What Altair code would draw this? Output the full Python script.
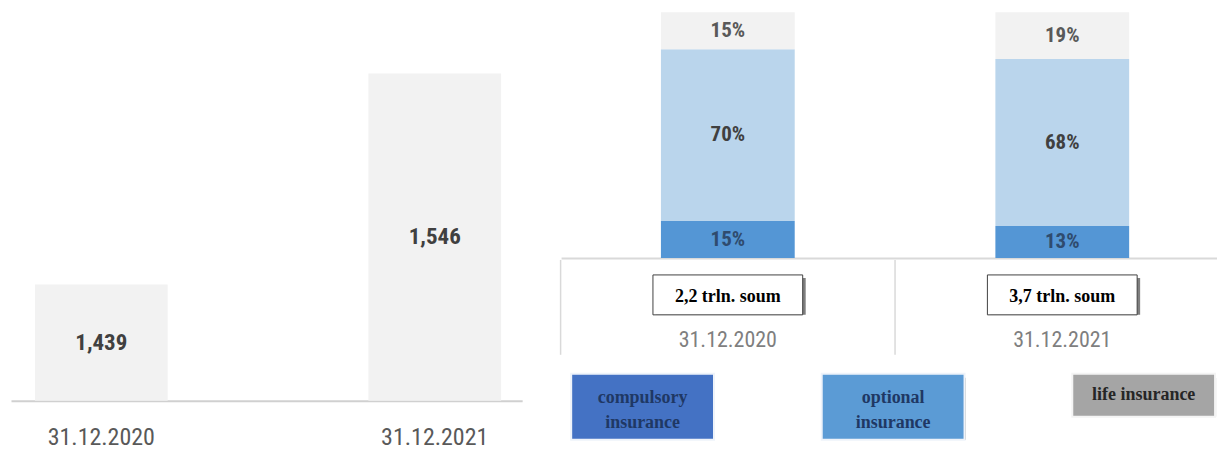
import altair as alt
import pandas as pd

# ---------------- data ----------------
dates = ["31.12.2020", "31.12.2021"]
premiums = [1439, 1546]
premium_labels = ["1,439", "1,546"]

categories = ["compulsory", "optional", "life"]
compulsory = [15, 13]
optional = [70, 68]
life = [15, 19]
totals = ["2,2 trln. soum", "3,7 trln. soum"]

legend_labels = ["compulsory\ninsurance", "optional\ninsurance", "life insurance"]

# ---------------- styles ----------------
NARROW = "Liberation Sans Narrow, Arial Narrow, Roboto Condensed, sans-serif"
SERIF = "Liberation Serif, Times New Roman, serif"
bar_colors = ["#5496D5", "#BAD5EC", "#F2F2F2"]
seg_text_colors = ["#2F4B6E", "#404040", "#595959"]
legend_colors = ["#4472C4", "#5B9BD5", "#A5A5A5"]
legend_text_colors = ["#1F3864", "#1F3864", "#262626"]
Y_MIN = 1380

# ---------------- left panel ----------------
left_df = pd.DataFrame({"date": dates, "value": premiums, "label": premium_labels})


def lscale():
    return alt.Scale(type="band", domain=dates, paddingInner=0.602, paddingOuter=0.0675, align=0.532)


lx = alt.X(
    "date:N", scale=lscale(), title=None,
    axis=alt.Axis(labelAngle=0, ticks=False, domainColor="#D0D0D0", domainWidth=2,
                  labelFont=NARROW, labelFontSize=24, labelColor="#595959",
                  labelPadding=37, labelBaseline="middle"),
)
ly_scale = alt.Scale(domain=[Y_MIN, 1577], zero=False, nice=False)
left_base = alt.Chart(left_df)
left_bars = left_base.mark_bar(color="#F2F2F2", clip=True).encode(
    x=lx, y=alt.Y("value:Q", scale=ly_scale, axis=None)
)
left_text = left_base.transform_calculate(
    mid=f"(datum.value + {Y_MIN}) / 2"
).mark_text(font=NARROW, fontSize=23, fontWeight="bold", color="#404040", baseline="middle").encode(
    x=alt.X("date:N", scale=lscale()), y=alt.Y("mid:Q", scale=ly_scale, axis=None), text="label:N"
)
left = alt.layer(left_bars, left_text).properties(width=512, height=389)

# ---------------- right panel ----------------
rows = []
for i, d in enumerate(dates):
    vals = [compulsory[i], optional[i], life[i]]
    for k, (c, v) in enumerate(zip(categories, vals)):
        rows.append({"date": d, "cat": c, "k": k, "value": v, "label": f"{v}%"})
seg_df = pd.DataFrame(rows)
info_df = pd.DataFrame({"date": dates, "total": totals})
leg_df = pd.DataFrame({"label": legend_labels})


def rscale():
    return alt.Scale(type="band", domain=dates, paddingInner=0.6, paddingOuter=0.2806, align=0.532)


ry_scale = alt.Scale(domain=[0, 100], nice=False)

seg = alt.Chart(seg_df).transform_stack(
    stack="value", groupby=["date"], as_=["v0", "v1"],
    sort=[alt.SortField("k", order="ascending")],
).transform_calculate(mid="(datum.v0 + datum.v1) / 2")

r_bars = seg.mark_bar().encode(
    x=alt.X("date:N", scale=rscale(), title=None,
            axis=alt.Axis(labels=False, ticks=False, domainColor="#D9D9D9", domainWidth=2)),
    y=alt.Y("v0:Q", scale=ry_scale, axis=None),
    y2="v1:Q",
    color=alt.Color("cat:N", scale=alt.Scale(domain=categories, range=bar_colors), legend=None),
)
r_text = seg.mark_text(font=NARROW, fontSize=21, fontWeight="bold", baseline="middle").encode(
    x=alt.X("date:N", scale=rscale(), axis=None),
    y=alt.Y("mid:Q", scale=ry_scale, axis=None),
    text="label:N",
    color=alt.Color("cat:N", scale=alt.Scale(domain=categories, range=seg_text_colors), legend=None),
)

info = alt.Chart(info_df)
rx_info = alt.X("date:N", scale=rscale(), axis=None)
dividers = info.mark_rule(color="#D9D9D9", strokeWidth=1.5, xOffset=-167.5).encode(
    x=rx_info, y=alt.value(248), y2=alt.value(343)
)
box_shadow = info.mark_bar(width=150, color="#7F7F7F", xOffset=3, yOffset=3).encode(
    x=rx_info, y=alt.value(263), y2=alt.value(303)
)
box = info.mark_bar(width=150, fill="white", stroke="#404040", strokeWidth=1).encode(
    x=rx_info, y=alt.value(263), y2=alt.value(303)
)
box_text = info.mark_text(font=SERIF, fontSize=18, fontWeight="bold", color="#000000",
                          baseline="middle").encode(
    x=rx_info, y=alt.value(285), text="total:N"
)
date_text = info.mark_text(font=NARROW, fontSize=22, color="#7F7F7F", baseline="middle").encode(
    x=rx_info, y=alt.value(328), text="date:N"
)

# legend boxes
leg = alt.Chart(leg_df).transform_calculate(two="indexof(datum.label, '\\n') >= 0")
lgx = alt.X("label:N", sort=legend_labels,
            scale=alt.Scale(type="band", domain=legend_labels, paddingInner=0.43,
                            paddingOuter=0.024, align=0.84),
            axis=None)
lfill = alt.Color("label:N", scale=alt.Scale(domain=legend_labels, range=legend_colors), legend=None)
ltc = alt.Color("label:N", scale=alt.Scale(domain=legend_labels, range=legend_text_colors), legend=None)

leg2 = leg.transform_filter("datum.two")
leg1 = leg.transform_filter("!datum.two")

leg2_shadow = leg2.mark_bar(color="#8C8C8C", xOffset=1, yOffset=4).encode(
    x=lgx, y=alt.value(362), y2=alt.value(428))
leg1_shadow = leg1.mark_bar(color="#8C8C8C", xOffset=1, yOffset=4).encode(
    x=lgx, y=alt.value(362), y2=alt.value(405))
leg2_box = leg2.mark_bar(stroke="#EEF3FA", strokeWidth=2).encode(
    x=lgx, y=alt.value(362), y2=alt.value(428), color=lfill)
leg1_box = leg1.mark_bar(stroke="#F4F4F4", strokeWidth=2).encode(
    x=lgx, y=alt.value(362), y2=alt.value(405), color=lfill)
leg2_text = leg2.mark_text(font=SERIF, fontSize=18, fontWeight="bold", lineBreak="\n",
                           lineHeight=25, baseline="middle").encode(
    x=lgx, y=alt.value(386), text="label:N", color=ltc)
leg1_text = leg1.mark_text(font=SERIF, fontSize=18, fontWeight="bold",
                           baseline="middle").encode(
    x=lgx, y=alt.value(383), text="label:N", color=ltc)

right = alt.layer(
    r_bars, r_text, dividers, box_shadow, box, box_text, date_text,
    leg2_shadow, leg1_shadow, leg2_box, leg1_box, leg2_text, leg1_text,
).resolve_scale(x="independent", color="independent").properties(width=657, height=246)

chart = alt.hconcat(left, right, spacing=37).properties(
    padding={"left": 3, "top": 4, "right": 0, "bottom": 0}
).configure_view(stroke=None)

chart.save("out.html", embed_options={"renderer": "svg", "actions": False})
